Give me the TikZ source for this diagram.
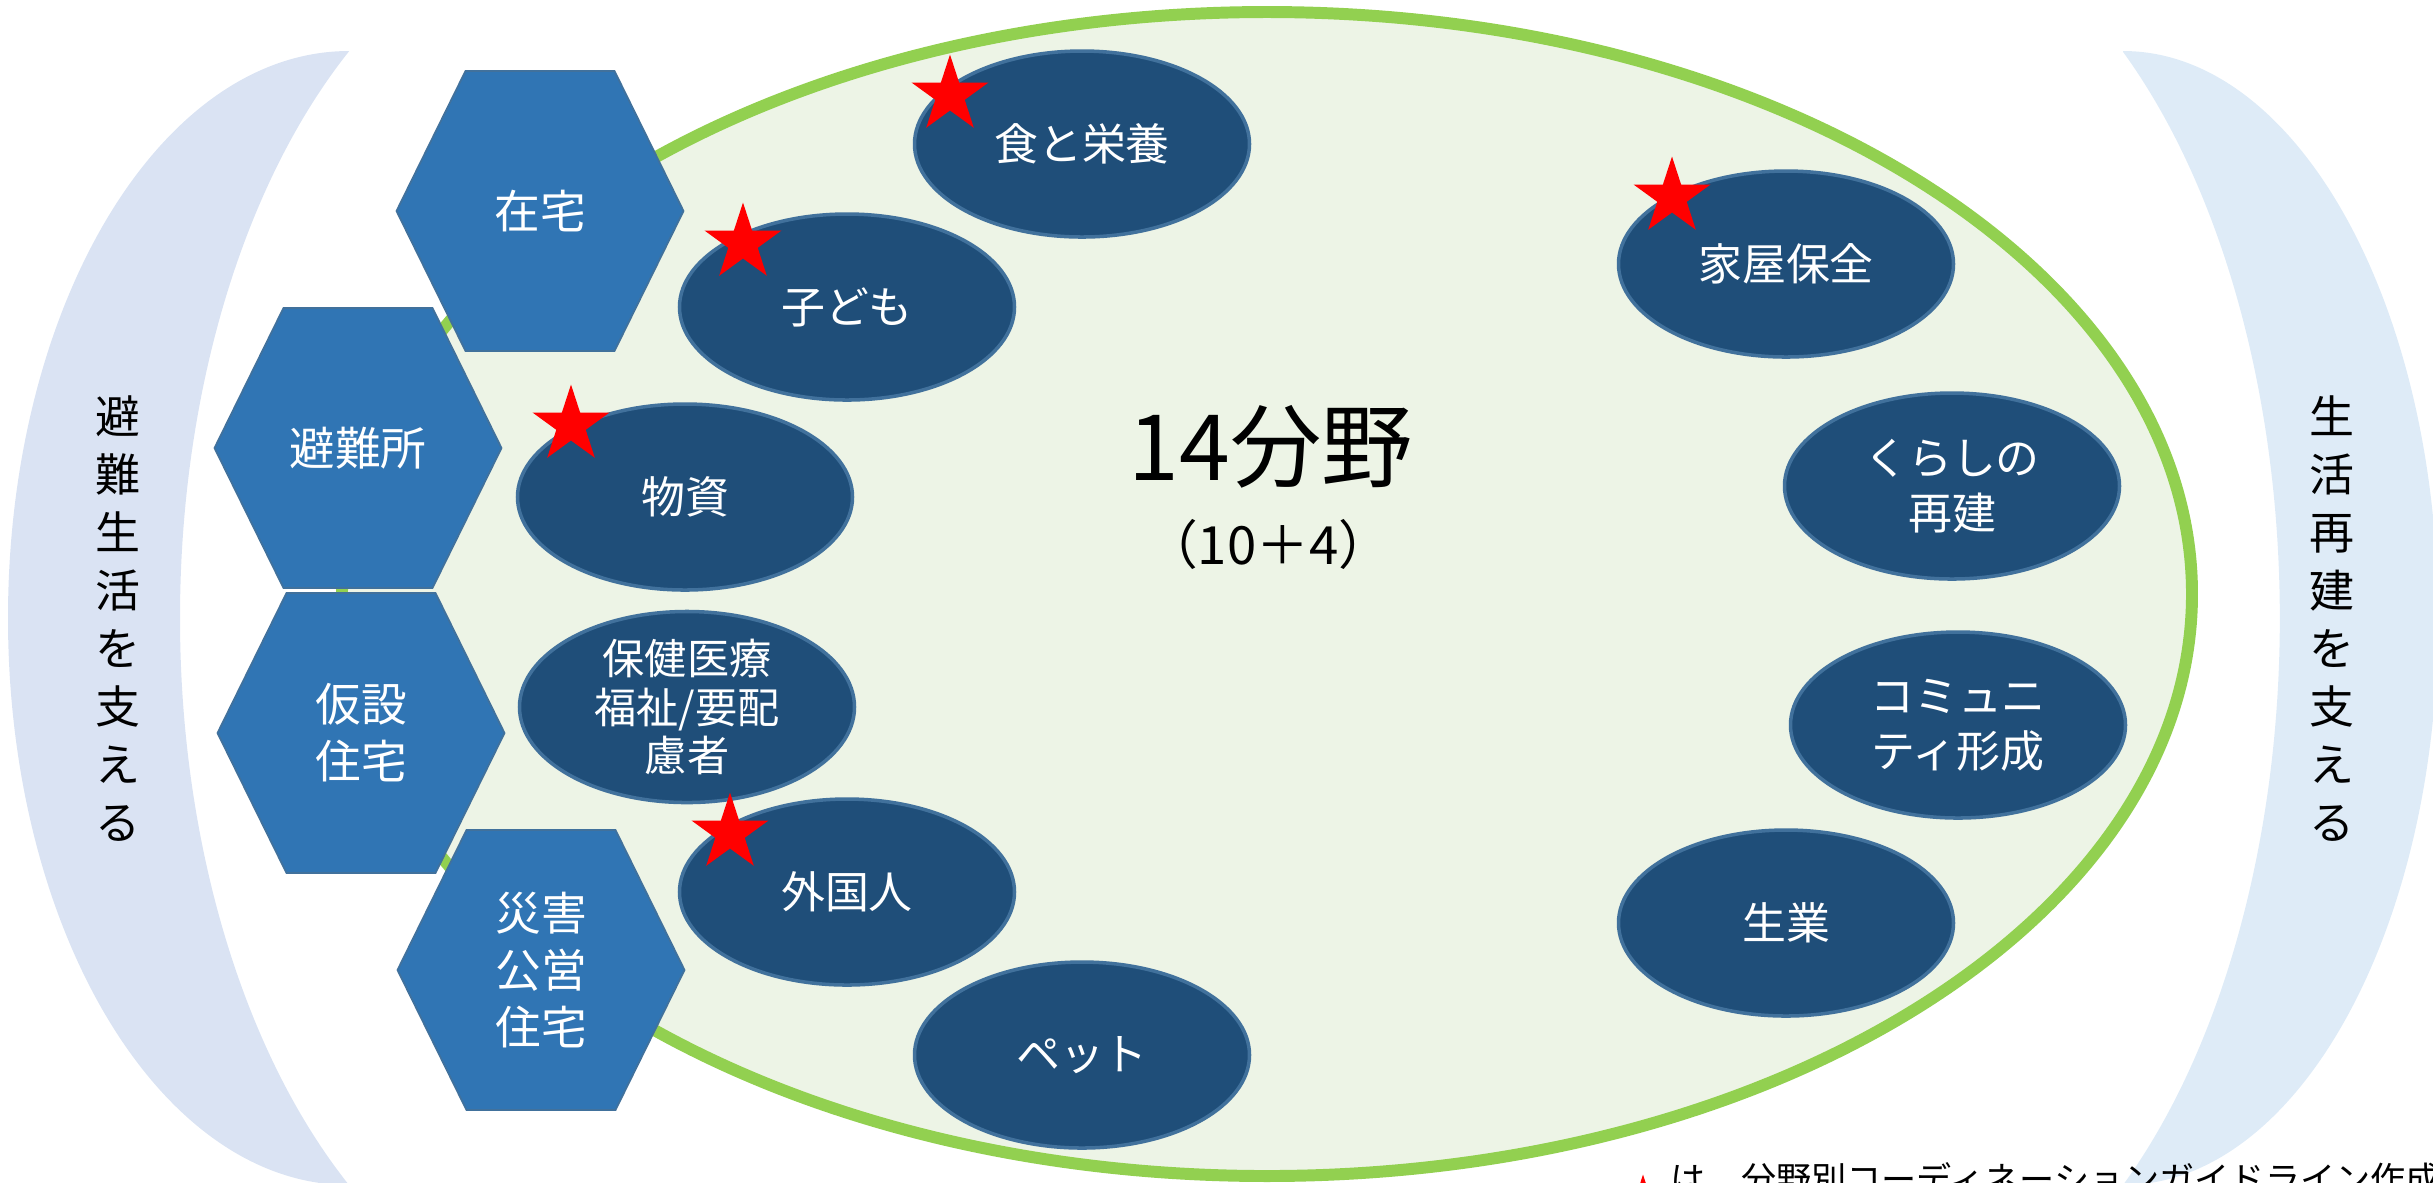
\documentclass[tikz,border=0pt]{standalone}
\usepackage{fontspec}
\setmainfont{Noto Sans CJK JP}
\usetikzlibrary{shapes.geometric}

\definecolor{moonleft}{RGB}{218,227,243}
\definecolor{moonright}{RGB}{222,235,247}
\definecolor{fieldgreen}{RGB}{146,208,80}
\definecolor{fieldfill}{RGB}{237,244,230}
\definecolor{hexblue}{RGB}{48,117,180}
\definecolor{ovalblue}{RGB}{31,78,121}
\definecolor{ovalrim}{RGB}{65,113,156}

\tikzset{
  hexcell/.style={fill=hexblue, draw=ovalrim, line width=0.5pt},
  hexlabel/.style={text=white, align=center, font=\fontsize{13}{16.2}\selectfont},
  oval/.style={ellipse, fill=ovalblue, draw=ovalrim, line width=1pt,
    minimum width=3.35cm, minimum height=1.86cm, inner sep=0pt,
    text=white, align=center, font=\fontsize{12.5}{15.6}\selectfont},
  redstar/.style={star, star points=5, star point ratio=2.618, fill=red,
    minimum size=0.81cm, inner sep=0pt},
  sidetext/.style={align=center, font=\fontsize{12.8}{16.5}\selectfont}
}

\begin{document}
\begin{tikzpicture}
    \path[use as bounding box] (0,0) rectangle (24.33,-11.82);
    \clip (0,0) rectangle (24.33,-11.82);
    % side crescents
    \fill[moonleft] (3.49,-0.51) arc[start angle=90, end angle=270, x radius=3.41, y radius=5.67]
        arc[start angle=233.3, end angle=126.7, x radius=4.20, y radius=7.07] -- cycle;
    \fill[moonright] (21.23,-0.51) arc[start angle=90, end angle=-90, x radius=3.15, y radius=5.67]
        arc[start angle=-52, end angle=52, x radius=4.08, y radius=7.19] -- cycle;
    % field
    \draw[fieldgreen, line width=3.4pt, fill=fieldfill] (12.67,-5.94) ellipse [x radius=9.25, y radius=5.82];
    % hexagons
    \foreach \nm/\x/\y/\txt in {zaitaku/5.40/-2.11/在宅, hinanjo/3.58/-4.48/避難所,
        kasetsu/3.61/-7.33/{仮設\\住宅}, saigai/5.41/-9.70/{災害\\公営\\住宅}} {
        \path[hexcell] (\x-1.435,\y) -- (\x-0.745,\y+1.40) -- (\x+0.745,\y+1.40)
            -- (\x+1.435,\y) -- (\x+0.745,\y-1.40) -- (\x-0.745,\y-1.40) -- cycle;
        \node[hexlabel] (\nm) at (\x,\y) {\txt};
    }
    % ovals
    \foreach \nm/\x/\y/\txt in {shoku/10.82/-1.44/食と栄養, kodomo/8.47/-3.07/子ども,
        busshi/6.85/-4.97/物資, gaikoku/8.47/-8.92/外国人, pet/10.82/-10.55/ペット,
        kaoku/17.86/-2.64/家屋保全, kurashi/19.52/-4.86/{くらしの\\再建},
        komyu/19.58/-7.25/{コミュニ\\ティ形成}, nariwai/17.86/-9.23/生業}
        \node[oval] (\nm) at (\x,\y) {\txt};
    \node[oval, font=\fontsize{12}{13.7}\selectfont] (hoken) at (6.87,-7.07) {保健医療\\福祉/要配\\慮者};
    % stars
    \foreach \x/\y [count=\i] in {9.50/-0.95, 7.43/-2.43, 5.71/-4.25, 7.30/-8.33,
        16.72/-1.97, 16.43/-12.15}
        \node[redstar] (star\i) at (\x,\y) {};
    % texts
    \node[font=\fontsize{26}{30}\selectfont] (title) at (12.71,-4.47) {14分野};
    \node[font=\fontsize{15}{18}\selectfont] (count) at (12.68,-5.44) {（10＋4）};
    \node[sidetext] (leftcap) at (1.18,-6.19) {避\\難\\生\\活\\を\\支\\え\\る};
    \node[sidetext] (rightcap) at (23.32,-6.19) {生\\活\\再\\建\\を\\支\\え\\る};
    \node[anchor=base west, inner sep=0pt, font=\fontsize{10}{12}\selectfont] (note)
        at (16.70,-11.92) {は、分野別コーディネーションガイドライン作成};
\end{tikzpicture}
\end{document}
